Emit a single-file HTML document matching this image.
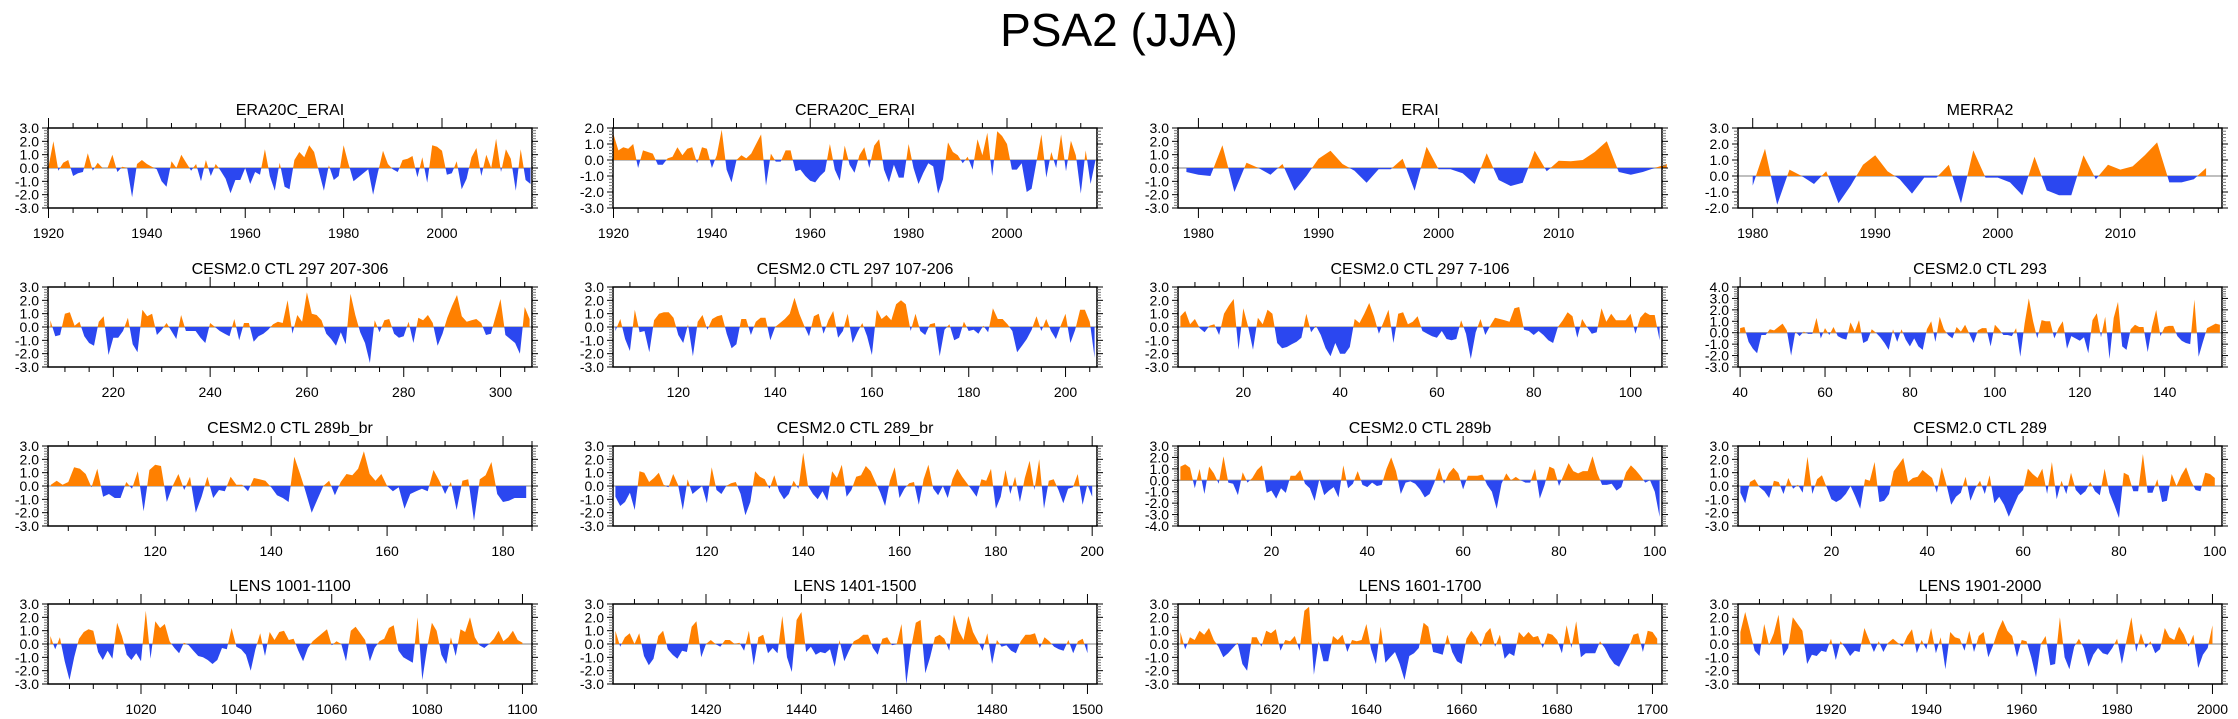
<!DOCTYPE html>
<html><head><meta charset="utf-8"><style>
html,body{margin:0;padding:0;background:#fff;}
svg{display:block;font-family:"Liberation Sans",Arial,sans-serif;}
</style></head><body>
<svg id="fig" width="2238" height="719" viewBox="0 0 2238 719" xmlns="http://www.w3.org/2000/svg">
<text x="1119" y="46" text-anchor="middle" font-size="46">PSA2 (JJA)</text>
</svg>
<script>
const panelTitles = ["ERA20C_ERAI","CERA20C_ERAI","ERAI","MERRA2",
"CESM2.0 CTL 297 207-306","CESM2.0 CTL 297 107-206","CESM2.0 CTL 297 7-106","CESM2.0 CTL 293",
"CESM2.0 CTL 289b_br","CESM2.0 CTL 289_br","CESM2.0 CTL 289b","CESM2.0 CTL 289",
"LENS 1001-1100","LENS 1401-1500","LENS 1601-1700","LENS 1901-2000"];
const startYears = [1920,1920,1979,1980,207,107,7,40,102,101,1,1,1001,1401,1601,1901];
const xRanges = [[1919.9,2018.3],[1919.9,2018.3],[1978.3,2018.6],[1978.8,2018.3],[206.5,306.5],[106.5,206.5],[6.5,106.5],[39.5,153.5],[101.5,185],[100.5,201],[0.5,101.5],[0.5,101.5],[1000.5,1102],[1400.5,1502],[1600.5,1702],[1900.5,2002]];
const yRanges = [[-3,3],[-3,2],[-3,3],[-2,3],[-3,3],[-3,3],[-3,3],[-3,4],[-3,3],[-3,3],[-4,3],[-3,3],[-3,3],[-3,3],[-3,3],[-3,3]];
const xMajor = [20,20,10,10,20,20,20,20,20,20,20,20,20,20,20,20];
const xMinor = [5,5,2,2,5,5,5,5,5,5,5,5,5,5,5,5];

const s0 = [0.1,2.0,-0.2,0.4,0.6,-0.6,-0.4,-0.3,1.1,-0.2,0.4,0.0,0.0,1.0,-0.3,0.1,0.0,-2.2,0.3,0.6,0.3,0.1,-0.1,-1.0,-1.4,0.5,0.0,1.0,0.4,-0.2,0.3,-1.0,0.6,-0.6,0.3,-0.2,-0.8,-1.9,-0.9,-0.9,0.0,-1.2,-0.3,-0.5,1.4,-0.6,-1.7,0.4,-1.4,-1.6,0.6,1.2,0.8,1.7,1.2,-0.3,-1.7,0.2,-0.9,-0.6,1.7,0.3,-1.0,-0.7,-0.4,-0.1,-2.0,-0.3,1.3,0.3,-0.1,-0.3,0.6,0.7,0.9,-0.7,0.8,-1.1,1.7,1.6,1.3,-0.5,-0.4,0.5,-1.6,-0.8,0.8,1.5,-0.6,1.0,0.0,2.2,-0.3,1.4,0.7,-1.7,1.4,-0.9,-1.2];
const s1 = [1.6,0.6,0.8,0.7,1.0,-0.5,0.6,0.5,0.4,-0.3,-0.3,0.1,0.2,0.8,0.3,0.7,0.8,-0.2,0.8,0.7,-0.5,0.3,1.9,-0.6,-1.4,0.0,0.3,0.1,0.4,1.0,1.6,-1.6,0.4,-0.1,-0.1,0.6,0.6,-0.7,-0.6,-1.0,-1.3,-1.4,-1.0,-0.7,1.0,-0.6,-1.3,0.9,-0.3,-0.8,0.3,0.8,-0.5,0.9,1.3,-0.6,-1.4,-0.3,-1.1,-1.1,1.0,-0.5,-1.5,-0.8,-0.2,-0.4,-2.1,-1.2,1.1,0.5,0.3,-0.2,0.2,-0.6,1.3,0.3,1.7,-1.0,1.8,1.5,1.0,-0.6,-0.6,-0.2,-2.0,-1.8,-0.1,1.6,-1.1,0.5,-0.5,1.6,-0.7,1.2,0.3,-2.1,0.6,-1.5,0.0];
const s2 = [-0.3,-0.5,-0.6,1.7,-1.8,0.4,0.0,-0.5,0.3,-1.7,-0.6,0.7,1.3,0.3,-0.2,-1.1,-0.1,-0.1,0.7,-1.7,1.6,-0.1,-0.1,-0.4,-1.2,1.1,-0.9,-1.35,-1.1,1.3,-0.25,0.55,0.5,0.6,1.2,2.0,-0.3,-0.5,-0.3,0.0,0.3];
const s3 = [-0.6,1.7,-1.8,0.4,0.0,-0.5,0.3,-1.7,-0.6,0.7,1.3,0.3,-0.2,-1.1,-0.1,-0.1,0.7,-1.7,1.6,-0.1,-0.1,-0.4,-1.2,1.2,-0.9,-1.2,-1.2,1.3,-0.2,0.7,0.4,0.6,1.3,2.1,-0.4,-0.4,-0.2,0.5];
const s4 = [0.5,-0.7,-0.6,1.0,1.1,0.1,0.4,-0.7,-1.2,-1.4,0.4,0.8,-2.1,-0.8,-0.8,-0.3,0.7,-1.3,-1.9,1.3,0.8,1.0,-0.6,-0.2,0.3,-0.3,-0.9,0.9,-0.3,-0.3,-0.3,-0.8,-1.2,0.3,0.0,-0.3,-0.5,-0.7,0.6,-1.0,0.3,0.3,-1.1,-0.7,-0.5,-0.2,0.2,0.4,0.3,2.0,-0.5,0.9,0.4,2.6,1.0,0.9,0.5,-0.5,-0.9,-1.4,-0.4,-1.3,2.5,0.9,-0.4,-1.2,-2.7,0.5,-0.4,0.5,0.6,-0.5,-0.8,-0.7,0.4,-1.2,0.7,0.5,0.9,0.3,-1.4,-0.5,0.7,1.6,2.4,0.8,0.4,0.5,0.6,0.3,-0.6,-0.5,0.8,2.1,-0.6,-0.9,-1.2,-2.0,1.5,0.6];
const s5 = [-0.3,0.6,-0.9,-1.8,1.3,-0.4,-0.3,-1.9,0.5,1.0,1.1,1.1,0.7,-0.6,-1.2,0.2,-2.2,0.4,0.9,-0.2,0.6,0.8,0.9,-0.5,-1.6,-1.3,0.6,0.6,-0.6,0.4,0.7,0.7,-1.0,0.0,0.3,0.6,1.0,2.2,1.0,0.1,-0.7,0.8,1.0,-0.5,0.5,1.2,-0.8,-0.3,1.0,-1.2,-0.4,0.3,-0.7,-2.1,1.3,0.6,0.9,0.5,1.7,2.0,1.7,-0.3,1.0,-0.3,-0.6,0.2,0.3,-2.2,-0.2,0.2,-1.0,-0.8,0.4,-0.3,-0.2,-0.5,0.1,-0.4,1.4,0.6,0.6,0.2,-0.3,-1.9,-1.4,-0.9,-0.2,0.8,-0.3,0.6,-0.3,-0.9,0.1,1.0,-1.2,-0.2,1.3,1.3,0.4,-2.3];
const s6 = [0.8,1.2,0.2,0.6,-0.1,-0.4,0.1,0.2,-0.6,1.0,1.6,2.1,-1.7,1.4,0.0,-1.7,0.7,0.2,1.3,1.0,-1.2,-1.6,-1.5,-1.3,-1.1,-0.8,1.0,-0.4,0.1,-0.6,-1.6,-2.2,-1.2,-2.0,-2.0,-1.5,0.6,0.3,1.0,1.8,0.8,-0.5,0.4,1.3,-1.2,1.0,1.1,0.2,0.4,0.8,-0.3,-0.5,-0.7,-0.8,-0.3,-0.9,-1.0,-0.9,0.5,-0.5,-2.4,-0.4,0.6,-0.6,0.1,0.7,0.6,0.5,0.4,1.4,1.5,-0.2,-0.3,-0.6,-0.3,-0.6,-1.0,-1.2,0.0,0.5,1.1,0.8,-0.8,0.6,0.0,-0.5,-0.4,1.4,0.4,1.0,0.5,0.5,0.5,1.0,-0.5,0.7,1.1,0.9,0.9,-1.0];
const s7 = [0.4,0.5,-0.8,-1.4,-1.8,-0.2,-0.2,0.3,0.2,0.5,0.8,0.2,-2.0,0.1,-0.3,0.1,-0.1,-0.1,1.3,-0.5,0.4,-0.2,0.5,-0.3,-0.5,-0.6,0.9,0.1,1.1,-0.9,-0.7,0.3,0.0,-0.4,-0.9,-1.5,0.3,-0.8,0.3,-0.6,-1.2,-0.5,-1.2,-1.5,0.3,1.0,-0.8,1.4,0.3,-0.2,-0.5,0.5,0.1,0.7,-0.1,-0.9,0.2,0.4,0.4,-1.2,0.7,0.3,-0.2,-0.2,-0.3,0.4,-2.1,0.8,3.0,1.0,-0.5,1.1,1.0,1.0,-0.5,0.4,1.0,-1.4,-0.3,-0.5,-0.7,-0.4,-1.8,1.1,1.7,-0.4,1.4,-2.3,1.3,2.7,-1.2,-1.5,0.3,0.7,0.5,0.5,-1.7,0.5,2.0,-0.3,0.5,0.6,0.6,-0.3,-0.7,-0.9,-1.0,2.9,-2.1,-0.8,0.4,0.6,0.8,0.7];
const s8 = [0.1,0.4,0.1,0.3,1.4,1.3,0.9,-0.1,1.3,-0.8,-0.6,-0.9,-0.9,0.3,-0.2,1.1,-1.9,1.2,1.6,1.5,-1.2,0.0,0.9,-0.3,0.7,-2.0,-0.8,0.7,-0.9,-0.3,-0.4,0.7,0.1,0.1,-0.4,0.6,0.5,0.4,-0.1,-0.7,-0.9,-1.2,2.2,0.9,-0.5,-2.0,-1.0,0.0,0.4,-0.7,0.3,0.9,0.8,1.3,2.6,0.9,0.4,0.9,0.0,-0.4,-0.1,-1.7,-0.6,-0.4,-0.2,-0.4,1.2,0.4,-0.6,0.3,-1.8,0.4,0.5,-2.6,0.5,0.8,1.8,-0.6,-1.2,-1.1,-0.9,-0.9,-0.9];
const s9 = [-0.8,-1.5,-1.2,-0.5,-1.8,1.1,1.0,0.3,0.6,1.0,0.1,-0.1,0.9,0.1,-1.8,0.5,-0.6,-0.3,0.0,-1.3,1.4,-0.3,-0.6,0.0,0.2,0.3,-0.6,-2.2,-1.2,1.1,0.7,0.5,-0.2,0.8,-0.4,-1.0,-0.6,0.4,-0.2,2.5,0.0,-0.6,-1.0,-0.4,-1.1,1.1,0.6,1.6,-0.8,-0.3,0.7,0.8,1.5,1.1,0.3,-0.5,-1.5,0.4,1.4,-0.9,-0.2,0.2,0.3,-1.4,0.5,1.6,-0.2,-0.7,0.0,-0.9,0.5,1.3,0.7,0.2,-0.3,-0.8,0.5,0.4,1.3,-1.7,-0.8,1.2,-0.6,0.7,-1.2,0.6,1.9,-0.3,2.0,-1.7,0.4,0.5,-0.3,-1.3,-0.2,-0.1,0.9,-1.4,0.1,-0.8];
const s10 = [1.2,1.4,1.1,-0.7,1.0,-1.2,1.2,0.6,-0.3,2.1,-0.2,-0.3,-1.3,0.7,-0.2,0.2,0.9,1.3,-1.1,-0.9,-1.6,-0.7,-1.1,0.4,0.4,0.9,-0.3,-0.7,-1.8,0.1,-1.3,-0.9,-0.6,-1.5,1.3,-0.7,-0.3,0.8,-0.4,-0.6,-0.2,-0.5,-0.4,1.0,2.0,0.8,-1.2,-0.2,-0.1,-0.3,-0.8,-1.5,-1.2,-0.2,1.1,-0.3,0.6,1.1,0.6,-0.8,0.4,0.4,0.4,0.5,-0.4,-1.0,-2.5,-0.3,0.6,0.0,0.3,0.0,-0.2,-0.2,1.0,-1.6,-0.4,1.2,1.0,-0.5,0.5,1.5,0.8,0.6,0.8,0.8,2.1,0.6,-0.4,-0.4,-0.3,-0.9,-0.6,0.7,1.3,0.9,0.4,-0.2,0.0,-1.0,-3.2];
const s11 = [-0.5,-1.3,0.3,0.5,-0.1,-0.4,-0.9,0.4,0.3,-0.6,0.6,-0.2,0.1,-0.5,2.2,-0.6,0.5,0.8,-0.1,-1.0,-1.2,-1.0,-0.6,0.0,-0.8,-1.7,0.5,0.4,1.8,-1.2,-1.1,-0.6,1.1,1.6,2.1,0.3,0.6,0.7,1.2,0.9,0.6,-0.5,1.4,0.1,-1.4,-0.8,-0.5,0.7,-1.1,-0.2,0.4,-0.6,0.8,-1.3,-0.8,-1.4,-2.3,-1.5,-0.7,-0.3,1.3,0.9,0.6,1.3,-0.6,1.8,-1.0,0.4,-0.6,1.0,-0.3,-0.7,-0.4,0.3,-0.4,-0.7,1.3,-0.5,-1.4,-2.4,1.0,0.8,-0.4,-0.4,2.4,-0.5,-0.5,0.5,-1.2,-1.1,0.9,0.0,0.8,1.4,0.4,-0.3,-0.4,1.0,0.9,0.6];
const s12 = [0.6,-0.4,0.5,-1.3,-2.7,-1.0,0.4,0.9,1.1,1.0,-0.6,-1.2,-0.5,-1.1,1.6,0.6,-0.8,-1.2,-0.7,-1.3,2.5,-1.1,1.7,1.2,1.5,0.2,-0.3,-0.7,0.1,-0.1,-0.5,-0.9,-1.0,-1.2,-1.5,-1.2,-0.3,-0.4,1.2,-0.2,-0.4,-0.8,-2.0,-0.4,0.8,-0.9,0.9,0.3,0.9,1.0,0.3,0.4,-0.5,-1.3,-0.3,0.2,0.5,0.8,1.1,-0.1,0.2,0.0,-1.3,1.0,1.3,0.8,0.3,-1.3,-0.3,0.2,0.4,1.2,1.4,-0.5,-1.0,-1.2,-1.4,2.0,-2.7,-0.3,1.6,1.0,-0.8,-1.5,0.5,-0.9,1.1,0.9,2.0,0.5,-0.1,-0.3,0.0,0.4,1.0,0.2,0.5,1.0,0.3,0.1];
const s13 = [1.0,-0.2,0.5,0.8,0.0,0.8,-0.9,-1.6,-1.1,0.6,1.0,-0.4,-0.8,-1.1,-0.5,-0.6,1.3,1.7,-1.0,0.0,0.3,0.0,-0.2,0.3,0.3,0.0,0.1,-0.5,1.0,-1.6,0.5,0.7,-0.7,-0.3,-0.7,2.1,-1.0,-2.1,1.8,2.4,-0.6,-0.2,-0.8,-0.6,-0.7,-0.4,-1.7,0.3,-1.3,-0.5,0.2,0.4,0.7,0.7,-0.3,-0.8,0.4,0.5,-0.1,0.0,1.5,-3.0,-0.3,1.6,1.8,-2.2,-1.0,0.5,0.7,0.4,-0.5,2.2,1.0,0.3,2.1,0.9,0.2,-0.5,0.8,-1.5,0.3,-0.2,-0.1,-0.5,-0.7,0.2,0.7,0.7,0.8,-0.3,0.5,0.2,-0.2,-0.4,-0.5,0.3,-0.7,0.2,0.4,-0.7];
const s14 = [0.9,-0.4,0.5,0.3,1.0,0.7,1.2,0.3,-0.2,-1.0,-0.7,-0.3,0.1,-1.5,-2.0,0.5,0.5,-0.2,1.0,0.8,1.1,-0.5,0.3,0.2,0.6,-0.5,2.5,2.8,-2.3,0.2,-1.3,-1.3,0.6,0.3,0.7,-0.6,0.3,0.2,0.3,1.5,-0.4,-1.5,1.3,-1.4,-1.0,-0.6,-1.5,-2.7,-0.9,-0.7,-0.3,1.6,1.3,-0.6,-0.7,-0.8,0.7,-0.6,-1.3,-1.5,0.4,1.0,0.5,-0.2,0.8,1.2,-0.2,0.7,-1.1,-0.7,-0.9,0.9,0.5,0.9,0.5,0.6,-0.3,0.8,0.7,0.3,-0.7,1.4,-0.3,1.7,-1.0,-0.7,-0.7,-0.7,0.2,-0.3,-1.0,-1.5,-1.7,-1.0,-0.3,0.7,0.8,-0.6,1.0,0.9,0.4];
const s15 = [0.9,2.4,1.0,-0.5,-0.9,1.5,-0.1,0.8,2.2,-0.9,-0.3,2.0,1.5,1.0,-1.5,-0.8,-0.9,-0.5,-0.6,0.4,-1.2,0.2,-0.3,-0.9,-0.5,-0.6,1.2,0.3,-0.6,0.2,-0.6,0.1,0.4,0.1,-0.2,0.6,1.1,-0.7,0.3,-0.4,1.2,-0.7,0.5,-1.9,0.9,0.5,0.4,-0.5,1.0,-0.6,0.6,0.9,-1.0,-0.1,1.0,1.8,1.0,0.6,-1.0,0.3,0.2,-1.0,-2.5,0.0,0.6,-1.6,-1.5,2.0,-1.0,-1.9,-0.2,0.4,-0.3,-1.7,-0.8,-0.3,-0.7,-0.8,-0.3,0.4,-1.5,0.3,2.0,-0.6,0.8,-0.3,0.2,-0.7,-0.4,1.2,0.5,0.3,1.3,0.7,-0.2,0.7,-1.8,-0.8,-0.3,1.4];
const series = [s0,s1,s2,s3,s4,s5,s6,s7,s8,s9,s10,s11,s12,s13,s14,s15];

const NS = "http://www.w3.org/2000/svg";
const svg = document.getElementById('fig');
const colLeft = [48,613,1178,1738];
const rowTop = [128,287,446,604];
const PW = 484, PH = 80;
function mk(tag, attrs, parent){ const e=document.createElementNS(NS,tag); for(const k in attrs) e.setAttribute(k,attrs[k]); parent.appendChild(e); return e; }

for (let p=0;p<16;p++){
  const L = colLeft[p%4], T = rowTop[Math.floor(p/4)];
  const [x0,x1] = xRanges[p], [y0,y1] = yRanges[p];
  const xs = v => L + (v-x0)/(x1-x0)*PW;
  const ys = v => T + (y1-v)/(y1-y0)*PH;
  const g = mk('g',{},svg);
  
  
  const t = mk('text',{x:L+PW/2,y:T-13,'text-anchor':'middle','font-size':'16'},g);
  t.textContent = panelTitles[p];
  
  
  const d = series[p], st = startYears[p];
  const pts = [];
  for (let i=0;i<d.length;i++){
    if (i>0 && (d[i-1]>0)!==(d[i]>0) && d[i-1]!==0 && d[i]!==0){
      const f = d[i-1]/(d[i-1]-d[i]);
      pts.push([st+i-1+f,0]);
    }
    pts.push([st+i,d[i]]);
  }
  let pos = 'M'+xs(pts[0][0])+','+ys(0), neg = pos;
  pts.forEach(q=>{ pos+=' L'+xs(q[0]).toFixed(1)+','+ys(Math.max(q[1],0)).toFixed(1);
                   neg+=' L'+xs(q[0]).toFixed(1)+','+ys(Math.min(q[1],0)).toFixed(1); });
  const end=' L'+xs(pts[pts.length-1][0])+','+ys(0)+' Z';
  const zl = mk('line',{x1:L,x2:L+PW,y1:ys(0),y2:ys(0),stroke:'#aaa','stroke-width':1.5},g);
  
  
  const pp = mk('path',{d:pos+end,fill:'#ff8000'},g);
  
  
  const np = mk('path',{d:neg+end,fill:'#2b47f0'},g);
  
  
  const box = mk('rect',{x:L,y:T,width:PW,height:PH,fill:'none',stroke:'#000','stroke-width':1.5},g);
  
  
  for (let k=Math.round(y0*5);k<=Math.round(y1*5);k++){
    const v=k/5, y=ys(v), major = k%5===0;
    const len = major?6:4, col = major?'#000':'#777';
    mk('line',{x1:L-len,x2:L,y1:y,y2:y,stroke:col,'stroke-width':1},g);
    mk('line',{x1:L+PW,x2:L+PW+len,y1:y,y2:y,stroke:col,'stroke-width':1},g);
    if (major){
      const lb = mk('text',{x:L-9,y:y+5,'text-anchor':'end','font-size':'14'},g);
      lb.textContent = v.toFixed(1);
      
      
    }
  }
  const mn = xMinor[p], mj = xMajor[p];
  for (let v=Math.ceil(x0/mn)*mn; v<=x1; v+=mn){
    const x=xs(v), major = v%mj===0, len = major?10:5;
    mk('line',{x1:x,x2:x,y1:T-len,y2:T,stroke:'#000','stroke-width':1},g);
    mk('line',{x1:x,x2:x,y1:T+PH,y2:T+PH+len,stroke:'#000','stroke-width':1},g);
    if (major){
      const lb = mk('text',{x:x,y:T+PH+30,'text-anchor':'middle','font-size':'14'},g);
      lb.textContent = v;
      
      
    }
  }
}
</script>
</body></html>
